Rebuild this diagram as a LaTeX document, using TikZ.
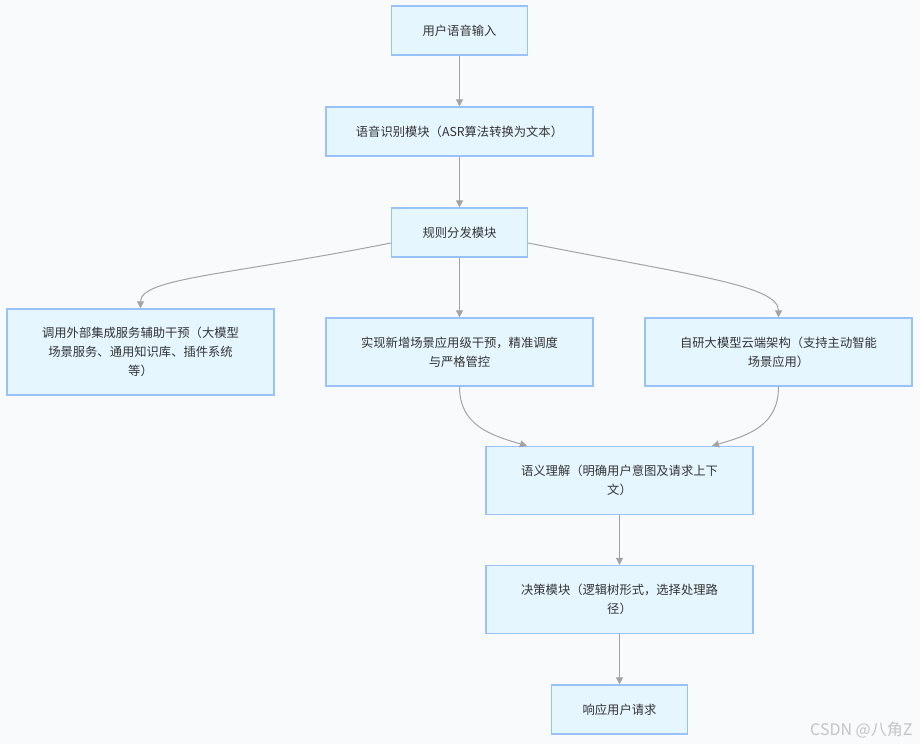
\documentclass[tikz,border=0pt]{standalone}
\usepackage{fontspec}
\setmainfont{Noto Sans CJK SC}
\usetikzlibrary{arrows.meta}
\definecolor{bgcol}{HTML}{F8FAFC}
\definecolor{boxfill}{HTML}{E6F6FF}
\definecolor{boxline}{HTML}{99C2FA}
\definecolor{linecol}{HTML}{A3A3A3}
\definecolor{txtcol}{HTML}{333333}
\definecolor{markcol}{HTML}{C4C4C4}

\begin{document}
\begin{tikzpicture}[x=1pt,y=-1pt,
    box/.style={draw=boxline,fill=boxfill,line width=1.3pt,inner sep=0pt,
      align=center,text=txtcol,font=\fontsize{12.3}{19}\selectfont},
    narrow/.style={box,minimum width=136pt,minimum height=49pt},
    wide/.style={box,minimum width=267pt,minimum height=#1},
    wide/.default=68pt,
    flow/.style={draw=linecol,line width=1pt,-{Triangle[length=7pt,width=7pt]}}]
    \fill[bgcol] (0,0) rectangle (920,744);
    \useasboundingbox (0,0) rectangle (920,744);

    \node[narrow] (input) at (459.5,30.5) {用户语音输入};
    \node[wide=49pt] (asr) at (459.5,131.5) {语音识别模块（ASR算法转换为文本）};
    \node[narrow] (rule) at (459.5,232.5) {规则分发模块};

    \node[wide=86pt] (ext) at (140.5,352) {调用外部集成服务辅助干预（大模型\\场景服务、通用知识库、插件系统\\等）};
    \node[wide] (scene) at (459.5,352) {实现新增场景应用级干预，精准调度\\与严格管控};
    \node[wide] (cloud) at (778.5,352) {自研大模型云端架构（支持主动智能\\场景应用）};

    \node[wide] (nlu) at (619.5,480.5) {语义理解（明确用户意图及请求上下\\文）};
    \node[wide] (decide) at (619.5,599.5) {决策模块（逻辑树形式，选择处理路\\径）};
    \node[narrow] (resp) at (619.5,709.5) {响应用户请求};

    \draw[flow] (input) -- (asr);
    \draw[flow] (asr) -- (rule);
    \draw[flow] (rule) -- (scene);
    \draw[flow] ([yshift=-10.5pt]rule.west) .. controls (230,275) and (140.5,278) .. (ext.north);
    \draw[flow] ([yshift=-10.5pt]rule.east) .. controls (689,275) and (778.5,285) .. (cloud.north);
    \draw[flow] (scene.south) .. controls (459.5,425) and (490,435) .. ([xshift=-92.5pt]nlu.north);
    \draw[flow] (cloud.south) .. controls (778.5,425) and (750,435) .. ([xshift=92.5pt]nlu.north);
    \draw[flow] (nlu) -- (decide);
    \draw[flow] (decide) -- (resp);

    \node[anchor=base east,text=markcol,font=\fontsize{16}{16}\selectfont] (mark) at (916,735) {CSDN @八角Z};
\end{tikzpicture}
\end{document}
